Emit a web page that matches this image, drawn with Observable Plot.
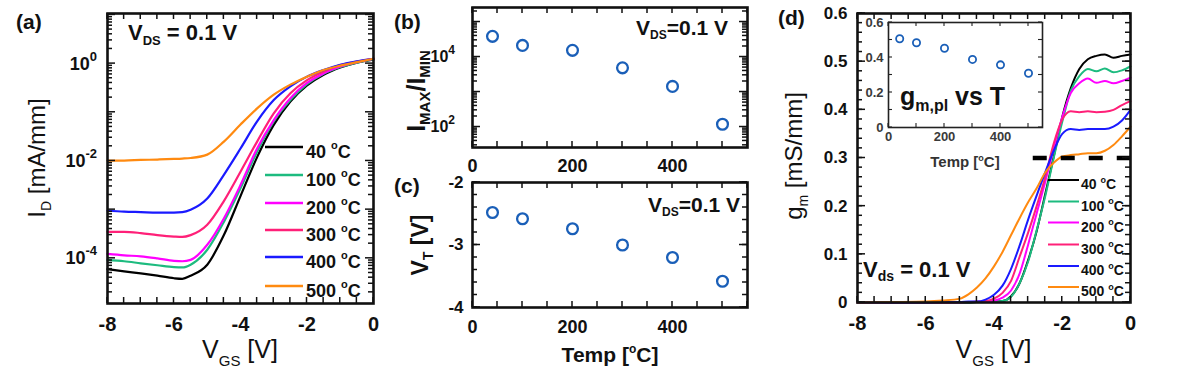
<!DOCTYPE html>
<html><head><meta charset="utf-8">
<script src="https://cdn.jsdelivr.net/npm/d3@7"></script>
<script src="https://cdn.jsdelivr.net/npm/@observablehq/plot@0.6"></script>
<style>
html,body{margin:0;padding:0;background:#fff;}
#fig{position:relative;width:1181px;height:386px;overflow:hidden;background:#fff;}
#fig svg{position:absolute;left:0;top:0;max-width:none;}
</style></head><body><div id="fig"></div>
<script>
// ---------------- DATA ----------------
const temps = [40, 100, 200, 300, 400, 500];
const seriesColors = ["#000000", "#1dbb7f", "#ff00ff", "#ff2078", "#1a1aff", "#ff8a10"];

// (a) I_D [mA/mm] vs V_GS, V_DS = 0.1 V
const vgsA = [-8,-7.5,-7,-6.5,-6,-5.75,-5.5,-5,-4.5,-4,-3.5,-3,-2.5,-2,-1.5,-1,-0.5,0];
const idA_40C  = [6.0e-5,5.4e-5,4.9e-5,4.4e-5,3.9e-5,3.8e-5,4.4e-5,7.4e-5,3.0e-4,1.9e-3,1.2e-2,5.5e-2,0.166,0.355,0.59,0.83,1.05,1.20];
const idA_100C = [9.3e-5,8.7e-5,7.9e-5,7.2e-5,6.6e-5,6.5e-5,7.4e-5,1.5e-4,5.6e-4,2.75e-3,1.55e-2,6.5e-2,0.178,0.38,0.62,0.85,1.05,1.23];
const idA_200C = [1.23e-4,1.15e-4,1.1e-4,1.0e-4,8.9e-5,8.7e-5,9.3e-5,1.9e-4,6.6e-4,3.2e-3,1.8e-2,6.9e-2,0.195,0.40,0.63,0.87,1.07,1.26];
const idA_300C = [3.5e-4,3.5e-4,3.3e-4,3.0e-4,2.8e-4,2.75e-4,3.0e-4,4.9e-4,1.5e-3,6.0e-3,2.5e-2,9.5e-2,0.245,0.457,0.69,0.93,1.10,1.26];
const idA_400C = [9.5e-4,9.1e-4,8.9e-4,8.7e-4,8.7e-4,8.9e-4,1.0e-3,1.7e-3,5.2e-3,1.8e-2,6.5e-2,0.178,0.34,0.54,0.74,0.95,1.12,1.26];
const idA_500C = [1.02e-2,1.02e-2,1.05e-2,1.07e-2,1.1e-2,1.12e-2,1.15e-2,1.35e-2,2.5e-2,5.6e-2,0.12,0.23,0.37,0.54,0.74,0.91,1.07,1.26];

// (b) I_MAX/I_MIN vs T ; (c) V_T vs T ; inset g_m,pl vs T
const tempPts = [40, 100, 200, 300, 400, 500];
const onOffRatio = [3.9e4, 2.15e4, 1.55e4, 4.9e3, 1.45e3, 1.2e2];
const vThreshold = [-2.48, -2.58, -2.74, -3.0, -3.2, -3.58];
const gmPlateau = [0.507, 0.484, 0.453, 0.389, 0.358, 0.31];

// (d) g_m [mS/mm] vs V_GS
const vgsD = [-8,-7,-6,-5.5,-5,-4.75,-4.5,-4.25,-4,-3.75,-3.5,-3.25,-3,-2.75,-2.5,-2.25,-2,-1.75,-1.5,-1.25,-1,-0.75,-0.5,-0.25,0];
const gm_40C  = [0,0,0,0,0,0,0.001,0.001,0.002,0.003,0.013,0.04,0.088,0.148,0.225,0.303,0.385,0.445,0.485,0.505,0.512,0.515,0.508,0.512,0.515];
const gm_100C = [0,0,0,0,0,0,0.001,0.001,0.002,0.003,0.012,0.04,0.085,0.15,0.22,0.30,0.375,0.44,0.47,0.485,0.48,0.486,0.478,0.482,0.49];
const gm_200C = [0,0,0,0,0,0.001,0.001,0.002,0.004,0.01,0.025,0.06,0.12,0.185,0.25,0.32,0.385,0.435,0.455,0.465,0.456,0.46,0.455,0.46,0.467];
const gm_300C = [0,0,0,0,0.001,0.001,0.002,0.003,0.008,0.02,0.045,0.095,0.145,0.20,0.26,0.33,0.38,0.397,0.395,0.397,0.395,0.396,0.40,0.41,0.418];
const gm_400C = [0,0,0,0.001,0.001,0.002,0.002,0.006,0.016,0.035,0.07,0.118,0.172,0.222,0.27,0.315,0.35,0.36,0.358,0.36,0.36,0.36,0.365,0.378,0.40];
const gm_500C = [0,0.001,0.002,0.004,0.008,0.017,0.031,0.05,0.075,0.105,0.14,0.175,0.208,0.237,0.27,0.29,0.303,0.306,0.308,0.31,0.31,0.315,0.327,0.345,0.365];
const gmPlateauLine = [{y: 0.3, x1: -2.85, x2: 0}];

// tick values
const ticksVgs = [-8, -6, -4, -2, 0];
const ticksIdDecades = [1e-4, 1e-2, 1];
const ticksRatioDecades = [1e2, 1e4];
const ticksTemp = [0, 200, 400];
const ticksVt = [-2, -3, -4];
const ticksGm = [0, 0.1, 0.2, 0.3, 0.4, 0.5, 0.6];
const ticksInsetY = [0, 0.2, 0.4, 0.6];

// ---------------- HELPERS ----------------
const W = 1181, H = 386;
const FONT = '"Liberation Sans", Arial, Helvetica, sans-serif';
const INK = "#111";
const MARK = "#1a5fb8";
const fig = document.getElementById("fig");

const idSeries = [idA_40C, idA_100C, idA_200C, idA_300C, idA_400C, idA_500C];
const gmSeries = [gm_40C, gm_100C, gm_200C, gm_300C, gm_400C, gm_500C];
const tidy = (xs, ys) => xs.map((x, i) => ({x, y: ys[i]}));

function range(a, b, s) { const out = []; for (let v = a; v <= b + 1e-9; v += s) out.push(+v.toFixed(6)); return out; }
function logTicks(lo, hi, minor) {
  const out = [];
  for (let e = Math.floor(Math.log10(lo)); e <= Math.ceil(Math.log10(hi)); e++)
    for (let k = 1; k <= 9; k++) {
      const v = k * Math.pow(10, e);
      if (v >= lo && v <= hi && ((k === 1) !== minor)) out.push(v);
    }
  return out;
}
function labelAxis(dim, values, fontSize, pad, fmt = d => String(d)) {
  const A = dim === "x" ? Plot.axisX : Plot.axisY;
  return A(values, {anchor: dim === "x" ? "bottom" : "left", tickSize: 0, tickPadding: pad, tickFormat: fmt,
    fontSize, fontWeight: "bold", label: null});
}
function panel(box, scales, marks, color = INK) {
  const p = Plot.plot({
    width: W, height: H,
    marginLeft: box.l, marginRight: W - box.r, marginTop: box.t, marginBottom: H - box.b,
    ...scales,
    style: {background: "transparent", fontFamily: FONT, overflow: "visible", color},
    marks
  });
  fig.appendChild(p);
  return p;
}

// ---------------- (a) ----------------
const boxA = {l: 107, r: 373, t: 13, b: 303};
const domA = [1.18e-5, 10.7];
const plotA = panel(boxA,
  {x: {domain: [-8, 0]}, y: {type: "log", domain: domA, axis: null}},
  [
    ...idSeries.map((s, i) => Plot.line(tidy(vgsA, s), {x: "x", y: "y", stroke: seriesColors[i], strokeWidth: 2.2, curve: "monotone-x"})),
    labelAxis("x", ticksVgs, 20, 13),
    Plot.frame({stroke: INK, strokeWidth: 2.6})
  ]);

// ---------------- (b) ----------------
const boxB = {l: 472, r: 747, t: 7, b: 147};
const domB = [26, 2.6e5];
const plotB = panel(boxB,
  {x: {domain: [0, 550]}, y: {type: "log", domain: domB, axis: null}},
  [
    Plot.dot(tidy(tempPts, onOffRatio), {x: "x", y: "y", r: 5.4, stroke: MARK, strokeWidth: 2.3, fill: "none"}),
    labelAxis("x", ticksTemp, 18, 12),
    Plot.frame({stroke: INK, strokeWidth: 2.6})
  ]);

// ---------------- (c) ----------------
const boxC = {l: 472, r: 747, t: 182, b: 307};
const plotC = panel(boxC,
  {x: {domain: [0, 550]}, y: {domain: [-4, -2]}},
  [
    Plot.dot(tidy(tempPts, vThreshold), {x: "x", y: "y", r: 5.4, stroke: MARK, strokeWidth: 2.3, fill: "none"}),
    labelAxis("x", ticksTemp, 18, 13),
    labelAxis("y", ticksVt, 17, 9),
    Plot.frame({stroke: INK, strokeWidth: 2.6})
  ]);

// ---------------- (d) ----------------
const boxD = {l: 857, r: 1130, t: 13, b: 302};
const plotD = panel(boxD,
  {x: {domain: [-8, 0]}, y: {domain: [0, 0.6]}},
  [
    ...gmSeries.map((s, i) => Plot.line(tidy(vgsD, s), {x: "x", y: "y", stroke: seriesColors[i], strokeWidth: 2, curve: "monotone-x"})),
    Plot.ruleY(gmPlateauLine, {y: "y", x1: "x1", x2: "x2", stroke: "#000", strokeWidth: 4.5, strokeDasharray: "14,14"}),
    labelAxis("x", ticksVgs, 20, 13),
    labelAxis("y", ticksGm, 17, 10),
    Plot.frame({stroke: INK, strokeWidth: 2.6})
  ]);

// inset
const boxI = {l: 888, r: 1042, t: 22, b: 127};
const plotI = panel(boxI,
  {x: {domain: [0, 550]}, y: {domain: [0, 0.6]}},
  [
    Plot.frame({fill: "#fff", stroke: "none"}),
    Plot.dot(tidy(tempPts, gmPlateau), {x: "x", y: "y", r: 3.6, stroke: MARK, strokeWidth: 1.8, fill: "none"}),
    labelAxis("x", ticksTemp, 13, 4),
    labelAxis("y", ticksInsetY, 13, 5),
    Plot.frame({stroke: "#222", strokeWidth: 1.6})
  ], "#3a3a3a");

// ---------------- OVERLAY (mirror ticks + rich text) ----------------
const ov = d3.create("svg").attr("width", W).attr("height", H).attr("viewBox", `0 0 ${W} ${H}`)
  .style("overflow", "visible");
fig.appendChild(ov.node());

// inward-pointing ticks on both sides of a frame, positioned with the plot's own scales
function mirrorTicks(plot, box, dim, values, size, sw = 1.5, stroke = INK) {
  const s = plot.scale(dim);
  const g = ov.append("g").attr("stroke", stroke).attr("stroke-width", sw);
  for (const v of values) {
    const p = s.apply(v);
    if (dim === "x") {
      g.append("line").attr("x1", p).attr("x2", p).attr("y1", box.b).attr("y2", box.b - size);
      g.append("line").attr("x1", p).attr("x2", p).attr("y1", box.t).attr("y2", box.t + size);
    } else {
      g.append("line").attr("y1", p).attr("y2", p).attr("x1", box.l).attr("x2", box.l + size);
      g.append("line").attr("y1", p).attr("y2", p).attr("x1", box.r).attr("x2", box.r - size);
    }
  }
}
mirrorTicks(plotA, boxA, "x", range(-8, 0, 0.5), 6);
mirrorTicks(plotA, boxA, "y", logTicks(domA[0], domA[1], false), 8);
mirrorTicks(plotA, boxA, "y", logTicks(domA[0], domA[1], true), 5);
mirrorTicks(plotB, boxB, "x", range(0, 550, 50), 6);
mirrorTicks(plotB, boxB, "y", logTicks(domB[0], domB[1], false), 8);
mirrorTicks(plotB, boxB, "y", logTicks(domB[0], domB[1], true), 5);
mirrorTicks(plotC, boxC, "x", range(0, 550, 50), 6);
mirrorTicks(plotC, boxC, "y", range(-4, -2, 0.2), 5);
mirrorTicks(plotC, boxC, "y", ticksVt, 8);
mirrorTicks(plotD, boxD, "x", range(-8, 0, 0.5), 6);
mirrorTicks(plotD, boxD, "y", range(0, 0.6, 0.02), 5);
mirrorTicks(plotD, boxD, "y", ticksGm, 8);
mirrorTicks(plotI, boxI, "x", range(0, 550, 100), 4, 1.1, "#222");
mirrorTicks(plotI, boxI, "y", range(0, 0.6, 0.1), 4, 1.1, "#222");

function rich(x, y, parts, {anchor = "start", weight = "bold", rotate = 0, fill = INK} = {}) {
  const g = ov.append("g").attr("transform", `translate(${x},${y})` + (rotate ? ` rotate(${rotate})` : ""));
  const t = g.append("text").attr("text-anchor", anchor).attr("font-family", FONT)
    .attr("font-weight", weight).attr("fill", fill).style("white-space", "pre");
  let cur = 0;
  for (const p of parts) {
    const sh = p.sh || 0;
    t.append("tspan").attr("dy", sh - cur).attr("font-size", p.s).text(p.t);
    cur = sh;
  }
  return t;
}
function logLabels(plot, values, xRight, fs, sfs) {
  const sy = plot.scale("y");
  for (const v of values) {
    const e = Math.round(Math.log10(v));
    const y = sy.apply(v) + 0.36 * fs;
    rich(xRight, y, [{t: "10", s: fs}, {t: String(e), s: sfs, sh: -0.5 * fs}], {anchor: "end"});
  }
}
function legend(x1, x2, xt, ys, fs, sfs, sw, off) {
  temps.forEach((T, i) => {
    const y = ys[i];
    ov.append("line").attr("x1", x1).attr("x2", x2).attr("y1", y).attr("y2", y)
      .attr("stroke", seriesColors[i]).attr("stroke-width", sw);
    rich(xt, y + off, [{t: T + " ", s: fs}, {t: "o", s: sfs, sh: -0.45 * fs}, {t: "C", s: fs}]);
  });
}

// (a)
rich(16, 29, [{t: "(a)", s: 21}]);
rich(128, 40, [{t: "V", s: 22}, {t: "DS", s: 13, sh: 5}, {t: " = 0.1 V", s: 22}]);
rich(45, 158, [{t: "I", s: 24}, {t: "D", s: 14, sh: 6}, {t: " [mA/mm]", s: 24}], {anchor: "middle", rotate: -90, weight: "normal"});
rich(240, 358, [{t: "V", s: 25}, {t: "GS", s: 15, sh: 8}, {t: " [V]", s: 25}], {anchor: "middle", weight: "normal"});
logLabels(plotA, ticksIdDecades, 97, 18, 13);
legend(265, 303, 306, [147, 175, 203, 230, 257, 286], 18, 11, 2.6, 10.5);

// (b)
rich(394, 29, [{t: "(b)", s: 21}]);
rich(728, 35, [{t: "V", s: 21}, {t: "DS", s: 12, sh: 4}, {t: "=0.1 V", s: 21}], {anchor: "end"});
rich(425, 91, [{t: "I", s: 25}, {t: "MAX", s: 15, sh: 5}, {t: "/I", s: 25}, {t: "MIN", s: 15, sh: 5}], {anchor: "middle", rotate: -90});
logLabels(plotB, ticksRatioDecades, 455, 16, 12);

// (c)
rich(394, 193, [{t: "(c)", s: 21}]);
rich(740, 212, [{t: "V", s: 21}, {t: "DS", s: 12, sh: 4}, {t: "=0.1 V", s: 21}], {anchor: "end"});
rich(428, 245, [{t: "V", s: 23}, {t: "T", s: 14, sh: 5}, {t: " [V]", s: 23}], {anchor: "middle", rotate: -90});
rich(610, 362, [{t: "Temp [", s: 21}, {t: "o", s: 12, sh: -9}, {t: "C]", s: 21}], {anchor: "middle"});

// (d)
rich(778, 25, [{t: "(d)", s: 21}]);
rich(802, 156, [{t: "g", s: 24}, {t: "m", s: 14, sh: 6}, {t: " [mS/mm]", s: 24}], {anchor: "middle", rotate: -90, weight: "normal"});
rich(993.5, 358, [{t: "V", s: 25}, {t: "GS", s: 15, sh: 8}, {t: " [V]", s: 25}], {anchor: "middle", weight: "normal"});
rich(863, 277, [{t: "V", s: 22}, {t: "ds", s: 14, sh: 4}, {t: " = 0.1 V", s: 22}]);
legend(1048, 1079, 1081, [180, 201.5, 222.5, 244.5, 266, 287], 14, 9, 2, 9);
// inset texts
rich(900, 105, [{t: "g", s: 25}, {t: "m,pl", s: 16, sh: 6}, {t: " vs T", s: 25}]);
rich(965, 167, [{t: "Temp [", s: 15}, {t: "o", s: 9, sh: -6}, {t: "C]", s: 15}], {anchor: "middle", fill: "#333"});
</script></body></html>
